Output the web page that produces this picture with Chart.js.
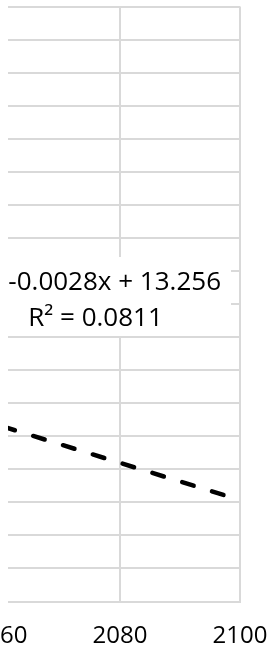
<!DOCTYPE html>
<html><head><meta charset="utf-8">
<script src="https://cdn.jsdelivr.net/npm/chart.js@4/dist/chart.umd.min.js"></script>
<style>html,body{margin:0;padding:0;background:#fff;overflow:hidden}canvas{display:block}</style>
</head><body>
<canvas id="c" width="271" height="655"></canvas>
<script>
// Data
const trendYears = [2060, 2098];
const trendValues = [7.466, 7.359];
const xTickValues = [2060, 2080, 2100];
const xRange = [2060, 2100];
const yRange = [7.2, 8.1];
const yStep = 0.05;
const equationLines = ['-0.0028x + 13.256', 'R² = 0.0811'];

const GRID = '#d9d9d9';
const FONT = "'Open Sans', sans-serif";

const labelPlugin = {
  id: 'trendLabel',
  afterDatasetsDraw(chart) {
    const ctx = chart.ctx, a = chart.chartArea;
    ctx.save();
    ctx.fillStyle = '#fff';
    ctx.fillRect(a.left, 257, 231 - a.left, 79);
    ctx.fillStyle = '#000';
    ctx.font = '26px ' + FONT;
    ctx.textBaseline = 'alphabetic';
    ctx.textAlign = 'right';
    ctx.fillText(equationLines[0], 221, 290);
    ctx.textAlign = 'center';
    ctx.fillText(equationLines[1], 95.5, 326);
    ctx.restore();
  },
  afterDraw(chart) {
    const ctx = chart.ctx, a = chart.chartArea;
    ctx.save();
    ctx.fillStyle = '#fff';
    ctx.fillRect(0, 0, 8, a.bottom + 2);
    ctx.restore();
  }
};

new Chart(document.getElementById('c'), {
  type: 'scatter',
  data: {
    datasets: [{
      data: trendYears.map((x, i) => ({ x: x, y: trendValues[i] })),
      showLine: true,
      borderColor: '#000',
      borderWidth: 4.5,
      borderDash: [12, 19.2],
      borderDashOffset: 27.65,
      borderCapStyle: 'round',
      pointRadius: 0,
      fill: false
    }]
  },
  options: {
    responsive: false,
    devicePixelRatio: 1,
    animation: false,
    layout: { padding: { top: 6.5, right: 31, left: 0, bottom: 0 } },
    plugins: { legend: { display: false }, tooltip: { enabled: false } },
    scales: {
      x: {
        type: 'linear',
        min: xRange[0], max: xRange[1],
        afterBuildTicks: s => { s.ticks = xTickValues.map(v => ({ value: v })); },
        afterFit: s => { s.paddingLeft = 0; s.paddingRight = 0; s.height = 53.5; },
        grid: { color: GRID, lineWidth: 2, drawTicks: false },
        border: { color: GRID, width: 2 },
        ticks: {
          color: '#000',
          font: { family: FONT, size: 24 },
          padding: 19.8,
          maxRotation: 0,
          autoSkip: false,
          callback: v => String(v)
        }
      },
      y: {
        min: yRange[0], max: yRange[1],
        ticks: { display: false, stepSize: yStep },
        grid: { color: GRID, lineWidth: 2, drawTicks: false },
        border: { display: false }
      }
    }
  },
  plugins: [labelPlugin]
});
</script>
</body></html>
